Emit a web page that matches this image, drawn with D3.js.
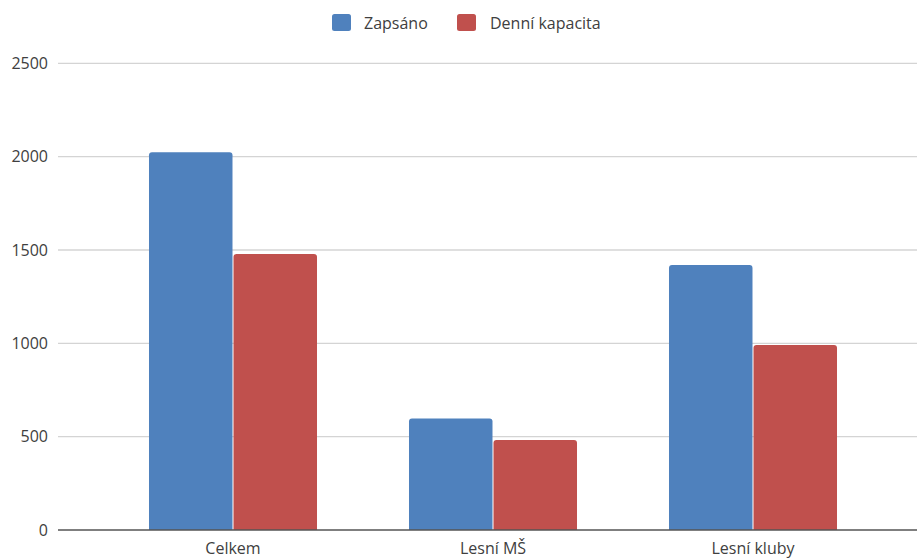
<!DOCTYPE html>
<html>
<head>
<meta charset="utf-8">
<script src="https://cdn.jsdelivr.net/npm/d3@7"></script>
<style>
  html, body { margin: 0; padding: 0; background: #fff; }
  svg { display: block; font-family: "Open Sans", sans-serif; }
</style>
</head>
<body>
<svg id="chart" width="917" height="559"></svg>
<script>
const categories = ["Celkem", "Lesní MŠ", "Lesní kluby"];
const seriesNames = ["Zapsáno", "Denní kapacita"];
const zapsano = [2023, 597, 1419];
const denniKapacita = [1478, 482, 991];
const yTicks = [0, 500, 1000, 1500, 2000, 2500];
const colors = ["#4f81bd", "#c0504d"];

const seriesValues = [zapsano, denniKapacita];
const data = categories.map((c, i) => ({
  category: c,
  values: seriesNames.map((s, j) => ({ series: s, value: seriesValues[j][i], idx: j }))
}));

const svg = d3.select("#chart");
const gridLeft = 58, gridRight = 917;
const y = d3.scaleLinear().domain([0, 2500]).range([530, 63.3]);
const x0 = d3.scaleBand().domain(categories).range([103, 883]).paddingInner(0.3538).paddingOuter(0.1769);
const x1 = d3.scaleBand().domain(seriesNames).range([0, x0.bandwidth()]).paddingInner(0.012);

// gridlines
svg.append("g").selectAll("line").data(yTicks.filter(d => d > 0)).join("line")
  .attr("x1", gridLeft).attr("x2", gridRight)
  .attr("y1", d => y(d)).attr("y2", d => y(d))
  .attr("stroke", "#d4d4d4").attr("stroke-width", 1.3);

// y axis labels
const yAxis = d3.axisLeft(y).tickValues(yTicks).tickSize(0).tickPadding(0).tickFormat(d3.format("d"));
const yg = svg.append("g").attr("transform", `translate(48,0)`).call(yAxis);
yg.select(".domain").remove();
yg.selectAll("text").attr("font-size", 16).attr("fill", "#404040").attr("font-family", "Open Sans, sans-serif");

// bars
function topRounded(x, yTop, w, h, r) {
  r = Math.min(r, h, w / 2);
  return `M${x},${yTop + h}V${yTop + r}Q${x},${yTop} ${x + r},${yTop}H${x + w - r}Q${x + w},${yTop} ${x + w},${yTop + r}V${yTop + h}Z`;
}
const groups = svg.append("g").selectAll("g").data(data).join("g")
  .attr("transform", d => `translate(${x0(d.category)},0)`);
groups.selectAll("path").data(d => d.values).join("path")
  .attr("d", d => topRounded(x1(d.series), y(d.value), x1.bandwidth(), y(0) - y(d.value), 3))
  .attr("fill", d => colors[d.idx]);

// baseline
svg.append("line").attr("x1", gridLeft).attr("x2", gridRight)
  .attr("y1", y(0)).attr("y2", y(0)).attr("stroke", "#555").attr("stroke-width", 1.6);

// x axis labels
const xAxis = d3.axisBottom(x0).tickSize(0).tickPadding(0);
const xg = svg.append("g").attr("transform", `translate(0,${y(0)})`).call(xAxis);
xg.select(".domain").remove();
xg.selectAll("text").attr("font-size", 16).attr("fill", "#404040").attr("dy", null).attr("y", 24)
  .attr("font-family", "Open Sans, sans-serif");

// legend
const legend = svg.append("g");
const legendItems = [{ name: seriesNames[0], x: 332, tx: 364 }, { name: seriesNames[1], x: 457, tx: 490 }];
legendItems.forEach((it, i) => {
  legend.append("rect").attr("x", it.x).attr("y", 14).attr("width", 19).attr("height", 17)
    .attr("rx", 2.5).attr("fill", colors[i]);
  legend.append("text").attr("x", it.tx).attr("y", 29).attr("font-size", 16).attr("fill", "#404040")
    .text(it.name);
});
</script>
</body>
</html>
